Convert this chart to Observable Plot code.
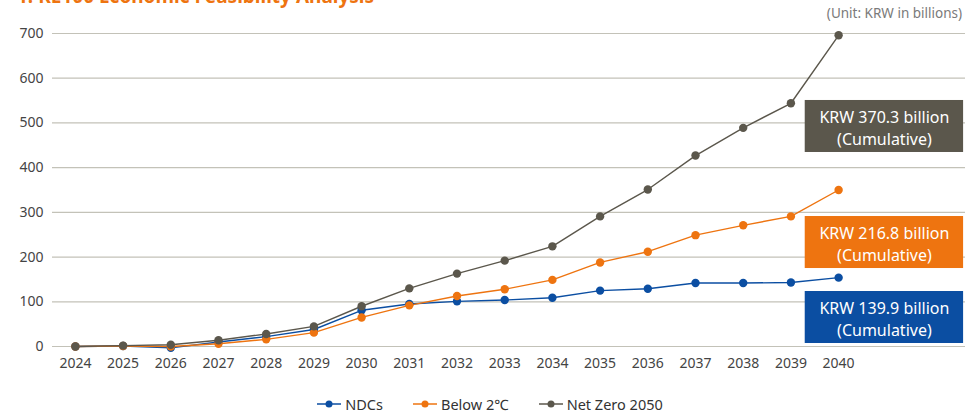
<!DOCTYPE html>
<html>
<head>
<meta charset="utf-8">
<script src="https://cdn.jsdelivr.net/npm/d3@7"></script>
<script src="https://cdn.jsdelivr.net/npm/@observablehq/plot@0.6"></script>
<style>
  html, body { margin: 0; padding: 0; background: #fff; width: 980px; height: 415px; overflow: hidden; font-family: "Noto Sans", "Open Sans", sans-serif; }
  #wrap { position: relative; width: 980px; height: 415px; }
  #title { position: absolute; left: 17px; top: -17px; font-size: 19px; font-weight: bold; color: #ee7410; white-space: nowrap; }
  #unit { position: absolute; right: 18px; top: 4px; font-size: 13.5px; color: #7a7a7a; }
  #chart { position: absolute; left: 0; top: 0; }
  #legend { position: absolute; left: 0; top: 394px; width: 980px; display: flex; justify-content: center; gap: 30px; font-size: 14.5px; color: #333; }
  .item { display: flex; align-items: center; gap: 4px; }
</style>
</head>
<body>
<div id="wrap">
  <div id="title">1. KE100 Economic Feasibility Analysis</div>
  <div id="unit">(Unit: KRW in billions)</div>
  <div id="chart"></div>
  <div id="legend"></div>
</div>
<script>
const years = [2024, 2025, 2026, 2027, 2028, 2029, 2030, 2031, 2032, 2033, 2034, 2035, 2036, 2037, 2038, 2039, 2040];
const seriesNames = ["NDCs", "Below 2℃", "Net Zero 2050"];
const seriesColors = ["#0b4ea2", "#ee7410", "#5b574c"];
const ndcs      = [0, 1, -3, 10, 22, 38, 81, 95, 101, 104, 109, 125, 129, 142, 142, 143, 154];
const below2    = [0, 1, 0, 6, 16, 31, 65, 92, 113, 128, 149, 188, 212, 249, 271, 291, 350];
const netZero   = [0, 2, 4, 14, 28, 45, 90, 130, 163, 192, 224, 291, 351, 427, 489, 544, 696];
const yTicks = [0, 100, 200, 300, 400, 500, 600, 700];
const boxLabels = ["KRW 139.9 billion\n(Cumulative)", "KRW 216.8 billion\n(Cumulative)", "KRW 370.3 billion\n(Cumulative)"];
const boxTop = [123, 290.7, 550.2];
const boxBottom = [6.7, 174.4, 433.9];
const boxLeft = 2039.3, boxRight = 2042.62;

const allSeries = [ndcs, below2, netZero];
const rows = [];
allSeries.forEach((vals, si) => vals.forEach((v, i) => rows.push({year: years[i], value: v, series: seriesNames[si]})));
const boxes = seriesNames.map((s, i) => ({series: s, label: boxLabels[i], y1: boxBottom[i], y2: boxTop[i], x1: boxLeft, x2: boxRight}));

const plot = Plot.plot({
  width: 980,
  height: 385,
  marginLeft: 52,
  marginRight: 15,
  marginTop: 33,
  marginBottom: 39,
  style: {fontFamily: '"Noto Sans", "Open Sans", sans-serif', fontSize: "14px", color: "#444", background: "transparent"},
  x: {domain: [2023.52, 2042.66], ticks: years, tickFormat: d => String(d), tickSize: 0, tickPadding: 12, label: null},
  y: {domain: [0, 700], ticks: yTicks, tickSize: 0, tickPadding: 9, label: null},
  color: {domain: seriesNames, range: seriesColors},
  marks: [
    Plot.ruleY(yTicks, {stroke: "#c3c2b8", strokeWidth: 1.2}),
    Plot.line(rows, {x: "year", y: "value", z: "series", stroke: "series", strokeWidth: 1.4}),
    Plot.dot(rows, {x: "year", y: "value", fill: "series", r: 4.2}),
    Plot.rect(boxes, {x1: "x1", x2: "x2", y1: "y1", y2: "y2", fill: "series"}),
    Plot.text(boxes, {x: d => (d.x1 + d.x2) / 2, y: d => (d.y1 + d.y2) / 2, text: "label", fill: "white", fontSize: 16, lineHeight: 1.38})
  ]
});
document.getElementById("chart").appendChild(plot);

const legend = document.getElementById("legend");
seriesNames.forEach((name, i) => {
  const item = document.createElement("div");
  item.className = "item";
  item.innerHTML = `<svg width="24" height="10"><line x1="0" y1="5" x2="24" y2="5" stroke="${seriesColors[i]}" stroke-width="1.5"/><circle cx="12" cy="5" r="3.5" fill="${seriesColors[i]}"/></svg><span>${name}</span>`;
  legend.appendChild(item);
});
</script>
</body>
</html>
